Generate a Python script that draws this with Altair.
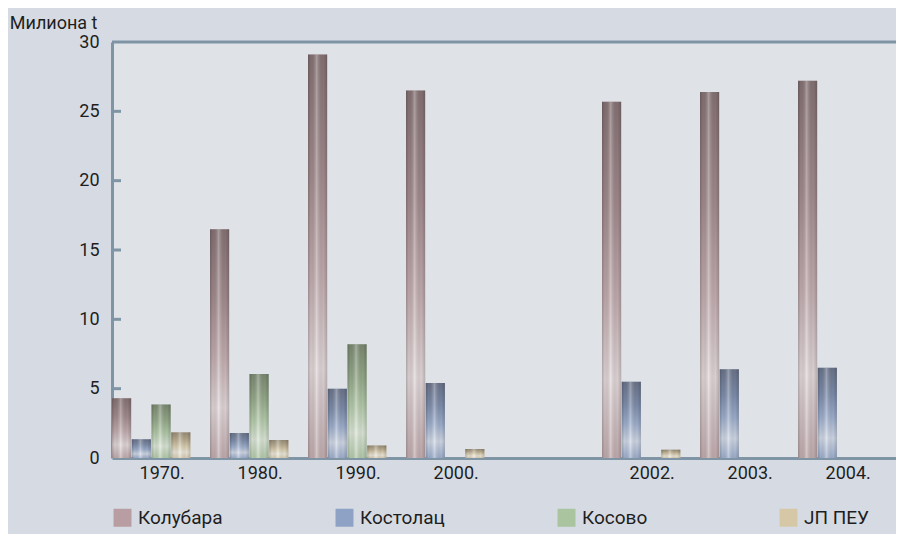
import altair as alt
import pandas as pd

years = ["1970.", "1980.", "1990.", "2000.", "2001.", "2002.", "2003.", "2004."]
series = ["Колубара", "Костолац", "Косово", "ЈП ПЕУ"]
kolubara = [4.3, 16.5, 29.1, 26.5, None, 25.7, 26.4, 27.2]
kostolac = [1.35, 1.8, 5.0, 5.4, None, 5.5, 6.4, 6.5]
kosovo = [3.85, 6.05, 8.2, None, None, None, None, None]
jppeu = [1.85, 1.3, 0.9, 0.65, None, 0.6, None, None]
colors = ["#b89ea2", "#8ea2c6", "#a9c49e", "#d6c8a6"]
tick_values = [5, 10, 15, 20, 25]
axis_values = [0, 5, 10, 15, 20, 25, 30]

FONT = "Roboto, Liberation Sans, sans-serif"
AXIS_COLOR = "#7f95a5"
TEXT = "#1e1e1e"

rows = []
for s, vals in zip(series, [kolubara, kostolac, kosovo, jppeu]):
    for yr, v in zip(years, vals):
        if v is not None:
            rows.append({"year": yr, "series": s, "value": v})
df = pd.DataFrame(rows)

x_enc = alt.X(
    "year:N",
    scale=alt.Scale(domain=years, paddingInner=0.2, paddingOuter=0.1, align=0),
    axis=alt.Axis(
        title=None, labelAngle=0, ticks=False, domainColor=AXIS_COLOR, domainWidth=3,
        labelOffset=11, labelPadding=6, labelFontSize=18, labelColor=TEXT, labelFont=FONT,
        labelExpr="datum.label == '2001.' ? '' : datum.label",
    ),
)
xo_enc = alt.XOffset("series:N", scale=alt.Scale(domain=series, paddingInner=0.03))
y_enc = alt.Y(
    "value:Q",
    scale=alt.Scale(domain=[0, 30], nice=False),
    axis=alt.Axis(
        values=axis_values, ticks=False, grid=False, domainColor=AXIS_COLOR, domainWidth=3,
        labelPadding=13, labelFontSize=18, labelColor=TEXT, labelFont=FONT,
        title="Милиона t", titleAngle=0, titleAlign="right", titleBaseline="alphabetic",
        titleX=-15, titleY=-14, titleFontSize=18, titleFontWeight="normal",
        titleColor=TEXT, titleFont=FONT,
    ),
)

base = alt.Chart(df).encode(x=x_enc, xOffset=xo_enc, y=y_enc)

bars = base.mark_bar().encode(
    color=alt.Color(
        "series:N",
        scale=alt.Scale(domain=series, range=colors),
        legend=alt.Legend(
            orient="none", legendX=1, legendY=466, direction="horizontal", columns=4,
            title=None, symbolType="square", symbolSize=324, symbolStrokeWidth=0,
            symbolOpacity=1, labelFontSize=19, labelOffset=6, columnPadding=112,
            gridAlign="all", labelFont=FONT, labelColor=TEXT,
        ),
    )
)

vshade = base.mark_bar(
    color=alt.LinearGradient(
        gradient="linear", x1=0, x2=0, y1=0, y2=1,
        stops=[
            alt.GradientStop(color="rgba(40,30,30,0.35)", offset=0),
            alt.GradientStop(color="rgba(40,30,30,0.15)", offset=0.3),
            alt.GradientStop(color="rgba(255,255,255,0.15)", offset=0.55),
            alt.GradientStop(color="rgba(255,255,255,0.6)", offset=0.78),
            alt.GradientStop(color="rgba(255,255,255,0.15)", offset=1),
        ],
    )
)

hshade = base.mark_bar(
    color=alt.LinearGradient(
        gradient="linear", x1=0, x2=1, y1=0, y2=0,
        stops=[
            alt.GradientStop(color="rgba(0,0,0,0.22)", offset=0),
            alt.GradientStop(color="rgba(0,0,0,0.05)", offset=0.15),
            alt.GradientStop(color="rgba(255,255,255,0.3)", offset=0.45),
            alt.GradientStop(color="rgba(0,0,0,0.04)", offset=0.8),
            alt.GradientStop(color="rgba(0,0,0,0.2)", offset=1),
        ],
    )
)

top_border = alt.Chart(pd.DataFrame({"value": [30]})).mark_rule(
    color=AXIS_COLOR, strokeWidth=3
).encode(y=alt.Y("value:Q"))

ticks = alt.Chart(pd.DataFrame({"value": tick_values})).mark_rule(
    color=AXIS_COLOR, strokeWidth=3
).encode(y=alt.Y("value:Q"), x=alt.value(0), x2=alt.value(9))

chart = (
    alt.layer(bars, vshade, hshade, top_border, ticks)
    .properties(
        width=784, height=416, background="#d6dbe3",
        padding={"left": 104, "top": 34, "right": 0, "bottom": 76},
        autosize=alt.AutoSizeParams(type="none"),
    )
    .configure_view(fill="#dfe3e8", stroke=None)
)

chart.save("out.html", embed_options={"renderer": "svg", "actions": False})
